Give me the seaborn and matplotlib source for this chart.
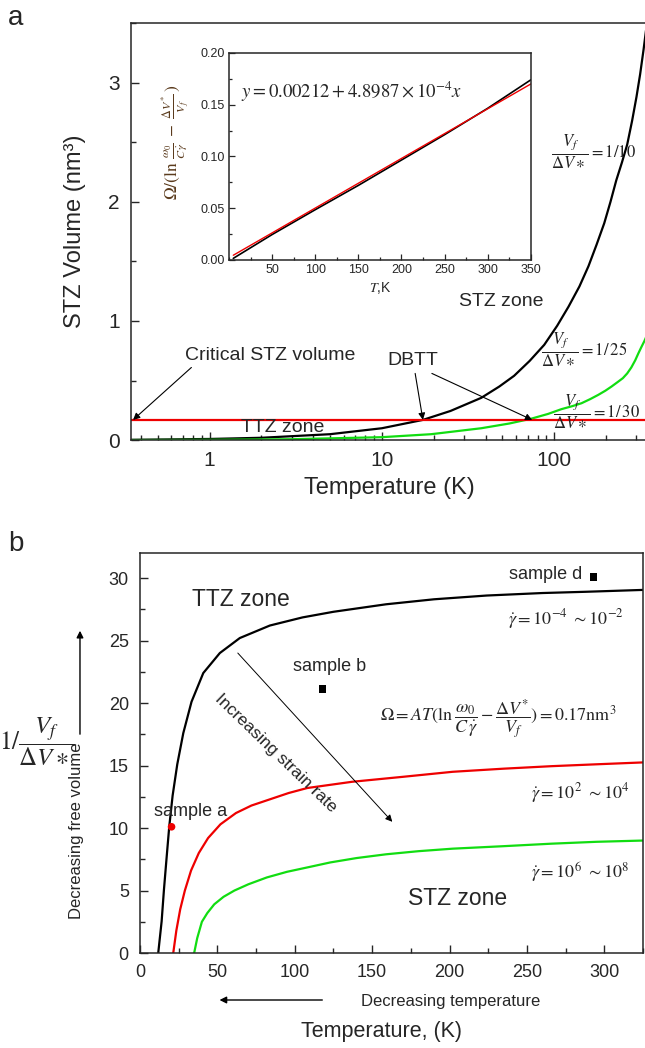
import matplotlib
matplotlib.use('Agg')
import matplotlib.pyplot as plt
import seaborn as sns
from matplotlib.ticker import MultipleLocator, LogLocator, NullFormatter, FuncFormatter, FormatStrFormatter

# ---------- panel a : STZ volume vs temperature ----------
t_a10 = [0.35, 1, 2, 5, 10, 17.3, 25, 37.7, 48, 58.5, 72, 87.5, 104, 121, 140, 158, 176, 195,
         212, 229, 247, 265, 283, 300, 315, 330, 345]
v_a10 = [0.003, 0.01, 0.02, 0.05, 0.1, 0.17, 0.245, 0.355, 0.45, 0.54, 0.665, 0.80, 0.96, 1.12, 1.29,
         1.46, 1.64, 1.82, 2.00, 2.18, 2.33, 2.48, 2.68, 2.88, 3.07, 3.28, 3.50]
t_a30 = [0.35, 1, 3, 10, 19.3, 37.7, 55, 73.5, 92, 110, 127, 144, 162, 180, 198, 215, 232, 250,
         265, 280, 295, 308, 320, 333, 345]
v_a30 = [0.001, 0.003, 0.008, 0.025, 0.05, 0.10, 0.14, 0.18, 0.22, 0.26, 0.285, 0.31, 0.345, 0.38,
         0.415, 0.45, 0.485, 0.52, 0.56, 0.61, 0.67, 0.73, 0.78, 0.83, 0.88]
t_crit = [0.35, 345]
v_crit = [0.17, 0.17]

# inset
t_inset = [5, 50, 100, 150, 200, 250, 300, 350]
y_inset = [0.0015, 0.0245, 0.0485, 0.072, 0.0965, 0.121, 0.1465, 0.174]
t_inset_fit = [5, 350]
y_inset_fit = [0.0045, 0.170]

# ---------- panel b : 1/(Vf/dV*) vs temperature ----------
t_b_low = [11.8, 14.0, 15.5, 17.2, 18.9, 21.1, 24.1, 28.0, 33.3, 40.9, 51.6, 64.5, 83.9, 105,
           125, 159, 190, 224, 260, 288, 325]
n_b_low = [0, 2.54, 5.08, 7.62, 10.1, 12.6, 15.1, 17.6, 20.1, 22.4, 24.0, 25.2, 26.2, 26.85,
           27.3, 27.9, 28.3, 28.6, 28.8, 28.9, 29.05]
t_b_mid = [21.5, 23.5, 26, 29, 33, 38, 44, 52, 62, 72, 84, 96, 108, 137, 170, 202, 235, 266, 295, 325]
n_b_mid = [0, 1.8, 3.5, 5.0, 6.6, 8.0, 9.2, 10.3, 11.2, 11.8, 12.3, 12.8, 13.2, 13.7, 14.1, 14.5,
           14.75, 14.95, 15.1, 15.25]
t_b_high = [35, 37, 40, 43.5, 48, 54, 61, 70, 82, 95, 110, 123, 140, 159, 180, 202, 235, 266, 295, 325]
n_b_high = [0, 1.2, 2.5, 3.2, 3.9, 4.5, 5.0, 5.5, 6.05, 6.5, 6.9, 7.25, 7.6, 7.9, 8.15, 8.35,
            8.55, 8.75, 8.9, 9.0]

sample_names = ['sample a', 'sample b', 'sample d']
sample_t = [20.4, 118, 293]
sample_n = [10.1, 21.1, 30.1]

sns.set_style('ticks')
plt.rcParams['font.family'] = ['Liberation Sans', 'DejaVu Sans']
plt.rcParams['mathtext.fontset'] = 'stix'
plt.rcParams['axes.linewidth'] = 1.1

GREEN = '#11dd11'
RED = '#ee0000'

fig = plt.figure(figsize=(6.45, 10.48), dpi=100)

# ======== panel a ========
ax1 = fig.add_axes([0.203, 0.580, 0.80, 0.398])
sns.lineplot(x=t_a10, y=v_a10, ax=ax1, color='black', lw=1.6, estimator=None)
sns.lineplot(x=t_a30, y=v_a30, ax=ax1, color=GREEN, lw=1.6, estimator=None)
sns.lineplot(x=t_crit, y=v_crit, ax=ax1, color=RED, lw=1.6, estimator=None)
ax1.set_xscale('log')
ax1.set_xlim(0.35, 345)
ax1.set_ylim(0, 3.5)
ax1.xaxis.set_major_locator(LogLocator(base=10))
ax1.xaxis.set_minor_locator(LogLocator(base=10, subs=range(2, 10)))
ax1.xaxis.set_major_formatter(FuncFormatter(lambda v, p: f'{v:g}'))
ax1.xaxis.set_minor_formatter(NullFormatter())
ax1.yaxis.set_major_locator(MultipleLocator(1))
ax1.yaxis.set_minor_locator(MultipleLocator(0.5))
ax1.tick_params(which='both', direction='in', top=False, right=False, labelsize=15, width=1.0)
ax1.tick_params(which='major', length=5.5, pad=8)
ax1.tick_params(which='minor', length=3.5)
ax1.set_xlabel('Temperature (K)', fontsize=17, labelpad=5)
ax1.set_ylabel('STZ Volume (nm³)', fontsize=17, labelpad=16)

ax1.text(2.26, 0.71, 'Critical STZ volume', fontsize=14, ha='center', va='center')
ax1.text(15.2, 0.67, 'DBTT', fontsize=14, ha='center', va='center')
ax1.text(2.65, 0.11, 'TTZ zone', fontsize=14, ha='center', va='center')
ax1.text(49, 1.16, 'STZ zone', fontsize=14, ha='center', va='center')
arrow = dict(arrowstyle='-|>', color='black', lw=0.8, mutation_scale=10, shrinkA=0, shrinkB=0)
ax1.annotate('', xy=(0.36, 0.17), xytext=(0.785, 0.61), arrowprops=arrow)
ax1.annotate('', xy=(17.3, 0.17), xytext=(15.6, 0.56), arrowprops=arrow)
ax1.annotate('', xy=(74.5, 0.17), xytext=(19.5, 0.56), arrowprops=arrow)
ax1.text(96, 2.42, r'$\dfrac{V_f}{\Delta V\ast}=1/10$', fontsize=12, ha='left', va='center', color='#222222')
ax1.text(84, 0.76, r'$\dfrac{V_f}{\Delta V\ast}=1/\,25$', fontsize=12, ha='left', va='center', color='#222222')
ax1.text(98.7, 0.235, r'$\dfrac{V_f}{\Delta V\ast}=1/\,30$', fontsize=12, ha='left', va='center', color='#222222')
fig.text(0.012, 0.995, 'a', fontsize=20, ha='left', va='top')

# inset
ax_in = fig.add_axes([0.355, 0.752, 0.468, 0.1975])
sns.lineplot(x=t_inset, y=y_inset, ax=ax_in, color='black', lw=1.2, estimator=None)
sns.lineplot(x=t_inset_fit, y=y_inset_fit, ax=ax_in, color=RED, lw=1.0, estimator=None)
ax_in.set_xlim(0, 350)
ax_in.set_ylim(0, 0.2)
ax_in.set_xticks([50, 100, 150, 200, 250, 300, 350])
ax_in.xaxis.set_minor_locator(MultipleLocator(25))
ax_in.yaxis.set_major_locator(MultipleLocator(0.05))
ax_in.yaxis.set_minor_locator(MultipleLocator(0.025))
ax_in.yaxis.set_major_formatter(FormatStrFormatter('%.2f'))
ax_in.tick_params(which='both', direction='in', top=False, right=False, labelsize=9, width=0.9)
ax_in.tick_params(which='major', length=4, pad=3)
ax_in.tick_params(which='minor', length=2.5)
ax_in.set_xlabel(r'$T$,K', fontsize=10, labelpad=3)
ax_in.text(-0.175, 0.57, r'$\Omega/(\ln\,\frac{\omega_0}{C\,\dot{\gamma}}\;-\;\frac{\Delta V^{*}}{V_f}\,)$',
           transform=ax_in.transAxes, rotation=90, ha='center', va='center', fontsize=12.5,
           color='#5a3a1c', zorder=5)
ax_in.text(14, 0.162, r'$y=0.00212+4.8987\times10^{-4}x$', fontsize=13.5, ha='left', va='center')

# ======== panel b ========
ax2 = fig.add_axes([0.217, 0.0906, 0.780, 0.3817])
sns.lineplot(x=t_b_low, y=n_b_low, ax=ax2, color='black', lw=1.6, estimator=None)
sns.lineplot(x=t_b_mid, y=n_b_mid, ax=ax2, color=RED, lw=1.6, estimator=None)
sns.lineplot(x=t_b_high, y=n_b_high, ax=ax2, color=GREEN, lw=1.6, estimator=None)
sns.scatterplot(x=sample_t, y=sample_n, hue=sample_names, style=sample_names, ax=ax2,
                palette=[RED, 'black', 'black'], markers=['o', 's', 's'], s=30,
                edgecolor='none', legend=False, zorder=4)
ax2.set_xlim(0, 325)
ax2.set_ylim(0, 32)
ax2.xaxis.set_major_locator(MultipleLocator(50))
ax2.xaxis.set_minor_locator(MultipleLocator(25))
ax2.yaxis.set_major_locator(MultipleLocator(5))
ax2.yaxis.set_minor_locator(MultipleLocator(2.5))
ax2.tick_params(which='both', direction='in', top=False, right=False, labelsize=13, width=1.0)
ax2.tick_params(which='major', length=5.5, pad=8)
ax2.tick_params(which='minor', length=3.5)

ax2.text(65, 28.3, 'TTZ zone', fontsize=16.5, ha='center', va='center')
ax2.text(205, 4.4, 'STZ zone', fontsize=16.5, ha='center', va='center')
ax2.text(32.6, 11.3, 'sample a', fontsize=13, ha='center', va='center')
ax2.text(122.6, 22.9, 'sample b', fontsize=13, ha='center', va='center')
ax2.text(262, 30.3, 'sample d', fontsize=13, ha='center', va='center')
ax2.text(275, 26.7, r'$\dot{\gamma}=10^{-4}\ \sim10^{-2}$', fontsize=13, ha='center', va='center')
ax2.text(284.5, 12.8, r'$\dot{\gamma}=10^{2}\ \sim10^{4}$', fontsize=13, ha='center', va='center')
ax2.text(284.5, 6.4, r'$\dot{\gamma}=10^{6}\ \sim10^{8}$', fontsize=13, ha='center', va='center')
ax2.text(231.6, 18.7, r'$\Omega=AT(\ln\dfrac{\omega_0}{C\,\dot{\gamma}}-\dfrac{\Delta V^{*}}{V_f})=0.17\mathrm{nm}^3$',
         fontsize=13, ha='center', va='center')
ax2.annotate('', xy=(163, 10.5), xytext=(63.2, 24.0),
             arrowprops=dict(arrowstyle='-|>', color='black', lw=0.7, mutation_scale=10, shrinkA=0, shrinkB=0))
ax2.text(87.6, 16, 'Increasing strain rate', fontsize=12.5, rotation=-44,
         rotation_mode='anchor', ha='center', va='center')

fig.text(0.591, 0.0153, 'Temperature, (K)', fontsize=15.5, ha='center', va='center')
fig.text(0.699, 0.0439, 'Decreasing temperature', fontsize=12, ha='center', va='center')
fig.text(0.119, 0.207, 'Decreasing free volume', fontsize=12, rotation=90, ha='center', va='center')
fig.text(0.057, 0.292, r'$1/\dfrac{V_f}{\Delta V\ast}$', fontsize=18, ha='center', va='center')
fig.add_artist(matplotlib.patches.FancyArrowPatch((0.504, 0.0458), (0.336, 0.0458), transform=fig.transFigure,
                                                  arrowstyle='-|>', mutation_scale=10, lw=1.0, color='black'))
fig.add_artist(matplotlib.patches.FancyArrowPatch((0.124, 0.2968), (0.124, 0.4008), transform=fig.transFigure,
                                                  arrowstyle='-|>', mutation_scale=10, lw=1.0, color='black'))
fig.text(0.012, 0.493, 'b', fontsize=20, ha='left', va='top')

fig.savefig('out.png', dpi=100)
